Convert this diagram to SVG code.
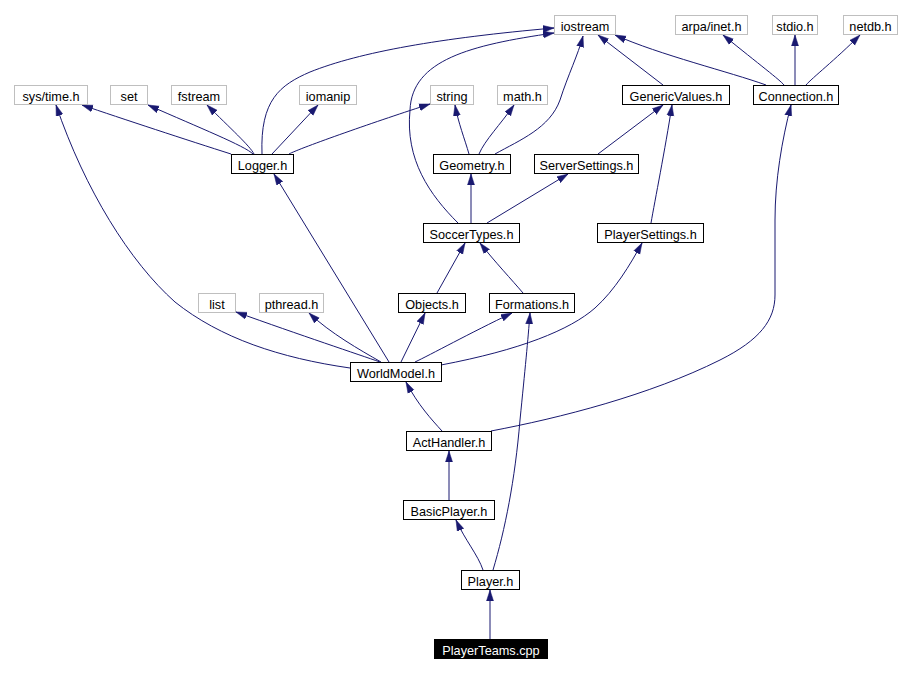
<svg xmlns="http://www.w3.org/2000/svg" width="910" height="673" viewBox="0 0 910 673">
<style>
.n rect{fill:#fff;stroke:#000;stroke-width:1}
.g rect{fill:#fff;stroke:#bfbfbf;stroke-width:1}
text{font-family:"Liberation Sans",Arial,sans-serif;font-size:12.7px;text-anchor:middle;fill:#000}
.r rect{fill:#000;stroke:#000}
.r text{fill:#fff}
#edges path{fill:none;stroke:#191970;stroke-width:1;marker-end:url(#a)}
</style>
<defs>
<marker id="a" markerWidth="12" markerHeight="9" refX="11" refY="4" orient="auto" markerUnits="userSpaceOnUse">
<path d="M0,0.5 L11,4 L0,7.5 z" fill="#191970" stroke="#191970" stroke-width="0.5"/>
</marker>
</defs>
<rect width="910" height="673" fill="#fff"/>
<g id="edges">
<path d="M231,154 C190,141 120,118 82,105"/>
<path d="M253,154 C245,146 200,128 148,105"/>
<path d="M254,154 C250,146 230,128 207,105"/>
<path d="M262,154 C260,100 280,85 310,72 C360,52 440,38 554,28"/>
<path d="M272,154 L318,105"/>
<path d="M289,154 C300,148 380,120 430,104"/>
<path d="M469,154 C465,140 458,122 455,105"/>
<path d="M479,154 C485,140 500,125 514,105"/>
<path d="M495,154 C520,140 550,128 560,100 C568,75 578,55 583,36"/>
<path d="M458,223 C430,195 405,160 410,110 C412,60 470,45 554,33"/>
<path d="M471,223 L471,174"/>
<path d="M487,223 L568,174"/>
<path d="M598,154 L663,105"/>
<path d="M663,85 L598,35"/>
<path d="M766,85 C730,72 660,55 615,35"/>
<path d="M784,85 C780,80 760,65 723,35"/>
<path d="M795,85 L795,35"/>
<path d="M806,85 C812,78 835,60 860,35"/>
<path d="M651,223 C655,200 665,150 672,105"/>
<path d="M437,293 L465,243"/>
<path d="M523,293 C512,280 495,262 480,243"/>
<path d="M350,368 C280,358 220,338 175,302 C130,262 85,190 56,105"/>
<path d="M380,362 C360,355 300,335 236,312"/>
<path d="M381,362 C360,350 330,333 309,313"/>
<path d="M389,362 L274,174"/>
<path d="M401,362 L425,313"/>
<path d="M415,362 C430,355 470,333 512,313"/>
<path d="M441,365 C520,350 570,330 595,308 C615,290 630,265 642,243"/>
<path d="M442,431 C432,420 418,405 406,382"/>
<path d="M491,431 C560,418 650,395 720,360 C760,340 775,320 775,295 L775,220 C775,180 782,140 791,105"/>
<path d="M449,500 L449,451"/>
<path d="M483,570 C478,555 465,540 456,520"/>
<path d="M493,570 C505,530 515,480 520,420 C525,370 528,340 530,313"/>
<path d="M490,639 L490,590"/>
</g>
<g id="iostream" class="g"><rect x="554.5" y="15.5" width="61" height="19"/><text x="585" y="30.5">iostream</text></g>
<g id="arpa_inet" class="g"><rect x="675.5" y="15.5" width="72" height="19"/><text x="711.5" y="30.5">arpa/inet.h</text></g>
<g id="stdio" class="g"><rect x="772.5" y="15.5" width="45" height="19"/><text x="795" y="30.5">stdio.h</text></g>
<g id="netdb" class="g"><rect x="843.5" y="15.5" width="54" height="19"/><text x="870.5" y="30.5">netdb.h</text></g>
<g id="systime" class="g"><rect x="14.5" y="85.5" width="73" height="19"/><text x="51" y="100.5">sys/time.h</text></g>
<g id="set" class="g"><rect x="110.5" y="85.5" width="37" height="19"/><text x="129" y="100.5">set</text></g>
<g id="fstream" class="g"><rect x="171.5" y="85.5" width="55" height="19"/><text x="199" y="100.5">fstream</text></g>
<g id="iomanip" class="g"><rect x="299.5" y="85.5" width="57" height="19"/><text x="328" y="100.5">iomanip</text></g>
<g id="string" class="g"><rect x="430.5" y="85.5" width="43" height="19"/><text x="452" y="100.5">string</text></g>
<g id="math" class="g"><rect x="497.5" y="85.5" width="50" height="19"/><text x="522.5" y="100.5">math.h</text></g>
<g id="GenericValues" class="n"><rect x="622.5" y="85.5" width="107" height="19"/><text x="676" y="100.5">GenericValues.h</text></g>
<g id="Connection" class="n"><rect x="753.5" y="85.5" width="85" height="19"/><text x="796" y="100.5">Connection.h</text></g>
<g id="Logger" class="n"><rect x="231.5" y="154.5" width="62" height="19"/><text x="262.5" y="169.5">Logger.h</text></g>
<g id="Geometry" class="n"><rect x="433.5" y="154.5" width="77" height="19"/><text x="472" y="169.5">Geometry.h</text></g>
<g id="ServerSettings" class="n"><rect x="534.5" y="154.5" width="104" height="19"/><text x="586.5" y="169.5">ServerSettings.h</text></g>
<g id="SoccerTypes" class="n"><rect x="423.5" y="223.5" width="96" height="19"/><text x="471.5" y="238.5">SoccerTypes.h</text></g>
<g id="PlayerSettings" class="n"><rect x="597.5" y="223.5" width="106" height="19"/><text x="650.5" y="238.5">PlayerSettings.h</text></g>
<g id="list" class="g"><rect x="198.5" y="293.5" width="37" height="19"/><text x="217" y="308.5">list</text></g>
<g id="pthread" class="g"><rect x="259.5" y="293.5" width="64" height="19"/><text x="291.5" y="308.5">pthread.h</text></g>
<g id="Objects" class="n"><rect x="398.5" y="293.5" width="67" height="19"/><text x="432" y="308.5">Objects.h</text></g>
<g id="Formations" class="n"><rect x="489.5" y="293.5" width="85" height="19"/><text x="532" y="308.5">Formations.h</text></g>
<g id="WorldModel" class="n"><rect x="350.5" y="362.5" width="91" height="19"/><text x="396" y="377.5">WorldModel.h</text></g>
<g id="ActHandler" class="n"><rect x="406.5" y="431.5" width="85" height="19"/><text x="449" y="446.5">ActHandler.h</text></g>
<g id="BasicPlayer" class="n"><rect x="403.5" y="500.5" width="91" height="19"/><text x="449" y="515.5">BasicPlayer.h</text></g>
<g id="Player" class="n"><rect x="461.5" y="570.5" width="58" height="19"/><text x="490.5" y="585.5">Player.h</text></g>
<g id="PlayerTeams" class="r"><rect x="434.5" y="639.5" width="113" height="19"/><text x="491" y="654.5">PlayerTeams.cpp</text></g>
</svg>
